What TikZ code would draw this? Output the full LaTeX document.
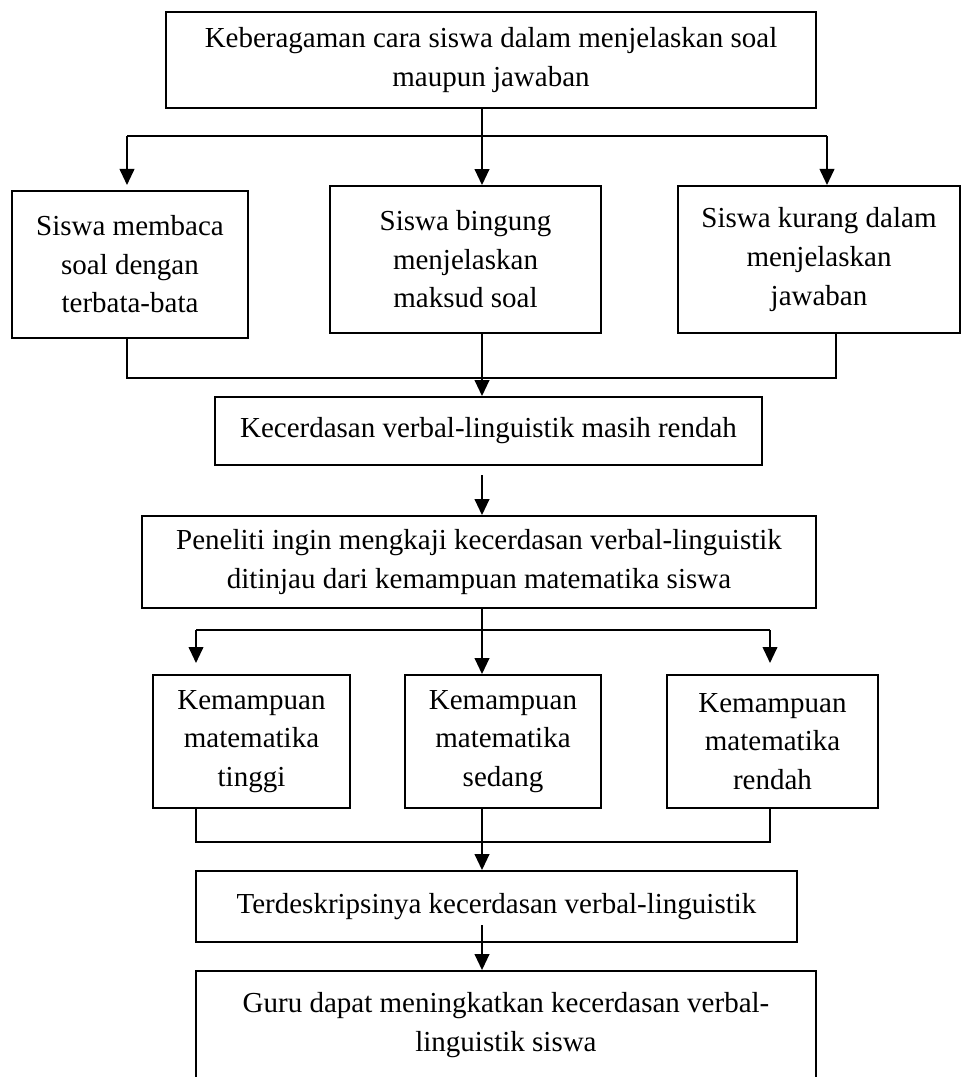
\documentclass[tikz,border=0pt]{standalone}
\usepackage{fontspec}
\setmainfont{Liberation Serif}
\usetikzlibrary{arrows.meta}
\begin{document}
\begin{tikzpicture}[x=0.75pt,y=-0.75pt,
  box/.style={draw, line width=1.4pt, inner sep=0pt, align=center, font=\fontsize{21.75pt}{28.9pt}\selectfont},
  conn/.style={line width=1.4pt},
  arr/.style={line width=1.4pt, -{Triangle[width=11pt,length=12pt]}}]
\clip (0,0) rectangle (962,1077);
% boxes
\node[box, minimum width=487.5pt, minimum height=72pt] (top) at (491,60) {Keberagaman cara siswa dalam menjelaskan soal\\maupun jawaban};
\node[box, minimum width=177pt, minimum height=110.25pt] (b1) at (130,264.5) {Siswa membaca\\soal dengan\\terbata-bata};
\node[box, minimum width=203.25pt, minimum height=110.25pt] (b2) at (465.5,259.5) {Siswa bingung\\menjelaskan\\maksud soal};
\node[box, minimum width=211.5pt, minimum height=110.25pt] (b3) at (819,259.5) {Siswa kurang dalam\\menjelaskan\\jawaban};
\node[box, minimum width=410.25pt, minimum height=51pt] (k1) at (488.5,431) {Kecerdasan verbal-linguistik masih rendah};
\node[box, minimum width=505.5pt, minimum height=69pt] (p) at (479,562) {Peneliti ingin mengkaji kecerdasan verbal-linguistik\\ditinjau dari kemampuan matematika siswa};
\node[box, minimum width=147.75pt, minimum height=99.75pt] (m1) at (251.5,741.5) {Kemampuan\\matematika\\tinggi};
\node[box, minimum width=147pt, minimum height=99.75pt] (m2) at (503,741.5) {Kemampuan\\matematika\\sedang};
\node[box, minimum width=158.25pt, minimum height=99.75pt] (m3) at (772.5,741.5) {Kemampuan\\matematika\\rendah};
\node[box, minimum width=450.75pt, minimum height=53.25pt] (t) at (496.5,906.5) {Terdeskripsinya kecerdasan verbal-linguistik};
\node[box, minimum width=465pt, minimum height=105pt] (g) at (506,1041) {Guru dapat meningkatkan kecerdasan verbal-\\linguistik siswa\\\mbox{}};
% junction coordinates
\coordinate (tx) at (482,0);
\coordinate (j1L) at (127,136);
\coordinate (j1R) at (827,136);
\coordinate (e1L) at (127,185);
\coordinate (e1R) at (827,185);
\coordinate (j2L) at (127,378);
\coordinate (j2R) at (836,378);
\coordinate (a3) at (482,475);
\coordinate (j3L) at (196,630);
\coordinate (j3R) at (770,630);
\coordinate (e3L) at (196,663);
\coordinate (e3R) at (770,663);
\coordinate (j4L) at (196,842);
\coordinate (j4R) at (770,842);
\coordinate (a5) at (482,925);
% connectors
\draw[arr] (top.south -| tx) -- (b2.north -| tx);
\draw[conn] (j1L) -- (j1R);
\draw[arr] (j1L) -- (e1L);
\draw[arr] (j1R) -- (e1R);
\draw[conn] (b1.south -| j2L) -- (j2L) -- (j2R) -- (b3.south -| j2R);
\draw[arr] (b2.south -| tx) -- (k1.north -| tx);
\draw[arr] (a3) -- (p.north -| tx);
\draw[arr] (p.south -| tx) -- (m2.north -| tx);
\draw[conn] (j3L) -- (j3R);
\draw[arr] (j3L) -- (e3L);
\draw[arr] (j3R) -- (e3R);
\draw[conn] (m1.south -| j4L) -- (j4L) -- (j4R) -- (m3.south -| j4R);
\draw[arr] (m2.south -| tx) -- (t.north -| tx);
\draw[arr] (a5) -- (g.north -| tx);
\end{tikzpicture}
\end{document}
